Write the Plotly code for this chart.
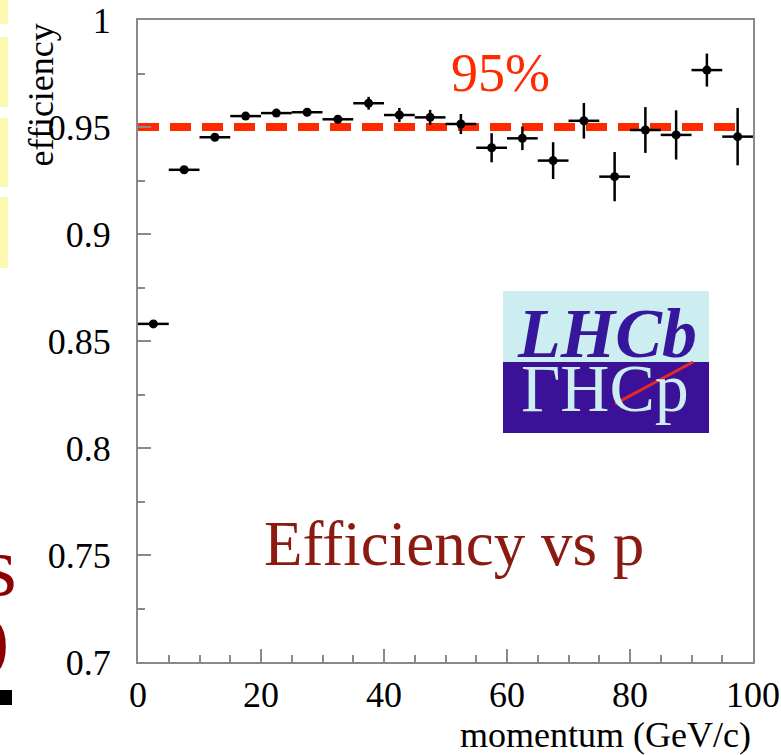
import plotly.graph_objects as go

# ---- data ----
momentum = [2.5, 7.5, 12.5, 17.5, 22.5, 27.5, 32.5, 37.5, 42.5, 47.5,
            52.5, 57.5, 62.5, 67.5, 72.5, 77.5, 82.5, 87.5, 92.5, 97.5]
efficiency = [0.858, 0.930, 0.9452, 0.9551, 0.9565, 0.9569, 0.9536, 0.9611, 0.9556, 0.9545,
              0.9514, 0.9403, 0.9447, 0.9343, 0.9529, 0.9268, 0.9486, 0.9463, 0.9766, 0.9455]
eff_err = [0.0008, 0.0008, 0.0009, 0.0010, 0.0010, 0.0010, 0.0015, 0.0030, 0.0033, 0.0035,
           0.0047, 0.0068, 0.0055, 0.0086, 0.0083, 0.0115, 0.0107, 0.0115, 0.0077, 0.0134]
bin_half = [2.5, 2.5, 2.5, 2.5, 2.5, 2.5, 2.5, 2.5, 2.5, 2.5,
            2.5, 2.5, 2.5, 2.5, 2.5, 2.5, 2.5, 2.5, 2.5, 2.5]
target = 0.95
target_line_x = [0, 98.4]
x_ticks = [0, 20, 40, 60, 80, 100]
x_ticktext = ["0", "20", "40", "60", "80", "100"]
y_ticks = [0.7, 0.75, 0.8, 0.85, 0.9, 0.95, 1.0]
y_ticktext = ["0.7", "0.75", "0.8", "0.85", "0.9", "0.95", "1"]

SERIF = "Liberation Serif, Times New Roman, serif"
AX = "#8a8a8a"

fig = go.Figure()
# 95% target line (dashed)
fig.add_trace(go.Scatter(
    x=target_line_x, y=[target, target], mode="lines",
    line=dict(color="#ff2a00", width=8, dash="21px,11px"),
    showlegend=False, hoverinfo="skip",
))
fig.add_trace(go.Scatter(
    x=momentum, y=efficiency, mode="markers",
    marker=dict(color="black", size=9),
    error_x=dict(type="data", array=bin_half, symmetric=True, color="black", thickness=2.5, width=0),
    error_y=dict(type="data", array=eff_err, symmetric=True, color="black", thickness=2.5, width=0),
    showlegend=False, cliponaxis=False,
))

axis_common = dict(
    showgrid=False, zeroline=False, showline=True, linecolor=AX, linewidth=2,
    mirror=True, ticks="inside", ticklen=13, tickwidth=1.5, tickcolor=AX,
    tickfont=dict(family=SERIF, size=36, color="black"), automargin=False,
)
fig.update_xaxes(range=[0, 100], tickvals=x_ticks, ticktext=x_ticktext,
                 minor=dict(dtick=5, ticks="inside", ticklen=7, tickwidth=1.5, tickcolor=AX),
                 ticklabelstandoff=0, **axis_common)
fig.update_yaxes(range=[0.7, 1.0], tickvals=y_ticks, ticktext=y_ticktext,
                 minor=dict(dtick=0.025, ticks="inside", ticklen=7, tickwidth=1.5, tickcolor=AX),
                 ticklabelstandoff=18, **axis_common)

shapes = []
# LHCb logo
shapes.append(dict(type="rect", xref="x", yref="y", x0=59.35, x1=92.85, y0=0.8402, y1=0.8734,
                   fillcolor="#cdeef0", line=dict(width=0), layer="below"))
shapes.append(dict(type="rect", xref="x", yref="y", x0=59.35, x1=92.85, y0=0.8070, y1=0.8402,
                   fillcolor="#3b1198", line=dict(width=0), layer="below"))
shapes.append(dict(type="line", xref="x", yref="y", x0=77.56, x1=90.24, y0=0.8206, y1=0.8402,
                   line=dict(color="#e82828", width=3)))
# slide remnants at the left edge
for y0, y1 in [(0, 24), (37, 107), (118, 187), (197, 268)]:
    shapes.append(dict(type="rect", xref="paper", yref="paper",
                       x0=(0 - 138) / 615, x1=(8 - 138) / 615,
                       y0=(662 - y1) / 642, y1=(662 - y0) / 642,
                       fillcolor="#fcf8b0", line=dict(width=0)))
shapes.append(dict(type="rect", xref="paper", yref="paper",
                   x0=(0 - 138) / 615, x1=(12 - 138) / 615,
                   y0=(662 - 705) / 642, y1=(662 - 690) / 642,
                   fillcolor="black", line=dict(width=0)))

annotations = [
    dict(text="efficiency", xref="paper", yref="paper", x=(41 - 138) / 615, y=0.997,
         xanchor="center", yanchor="top", textangle=-90, showarrow=False,
         font=dict(family=SERIF, size=36, color="black")),
    dict(text="momentum (GeV/c)", xref="paper", yref="paper", x=(753 - 138) / 615,
         y=(662 - 735) / 642, xanchor="right", yanchor="middle", showarrow=False,
         font=dict(family=SERIF, size=36, color="black")),
    dict(text="95%", xref="x", yref="y", x=59.0, y=0.9752, xanchor="center", yanchor="middle",
         showarrow=False, font=dict(family=SERIF, size=54, color="#ff2a00")),
    dict(text="Efficiency vs p", xref="x", yref="y", x=51.4, y=0.7551, xanchor="center",
         yanchor="middle", showarrow=False, font=dict(family=SERIF, size=63, color="#8b1a10")),
    dict(text="<b><i>LHCb</i></b>", xref="x", yref="y", x=76.3, y=0.8402, xanchor="center",
         yanchor="bottom", yshift=-12, showarrow=False,
         font=dict(family=SERIF, size=70, color="#36169a")),
    dict(text="ΓHCp", xref="x", yref="y", x=76.0, y=0.8402, xanchor="center",
         yanchor="top", yshift=14, showarrow=False,
         font=dict(family=SERIF, size=68, color="#cdeef0")),
    dict(text="s", xref="paper", yref="paper", x=(19 - 138) / 615, y=(662 - 566) / 642,
         xanchor="right", yanchor="middle", showarrow=False,
         font=dict(family=SERIF, size=84, color="#8b0000")),
    dict(text=")", xref="paper", yref="paper", x=(11 - 138) / 615, y=(662 - 640) / 642,
         xanchor="right", yanchor="middle", showarrow=False,
         font=dict(family=SERIF, size=72, color="#8b0000")),
]

fig.update_layout(
    width=781, height=755,
    margin=dict(l=138, r=28, t=20, b=93, autoexpand=False),
    paper_bgcolor="white", plot_bgcolor="white",
    shapes=shapes,
    annotations=annotations,
)

fig.write_html("out.html")
